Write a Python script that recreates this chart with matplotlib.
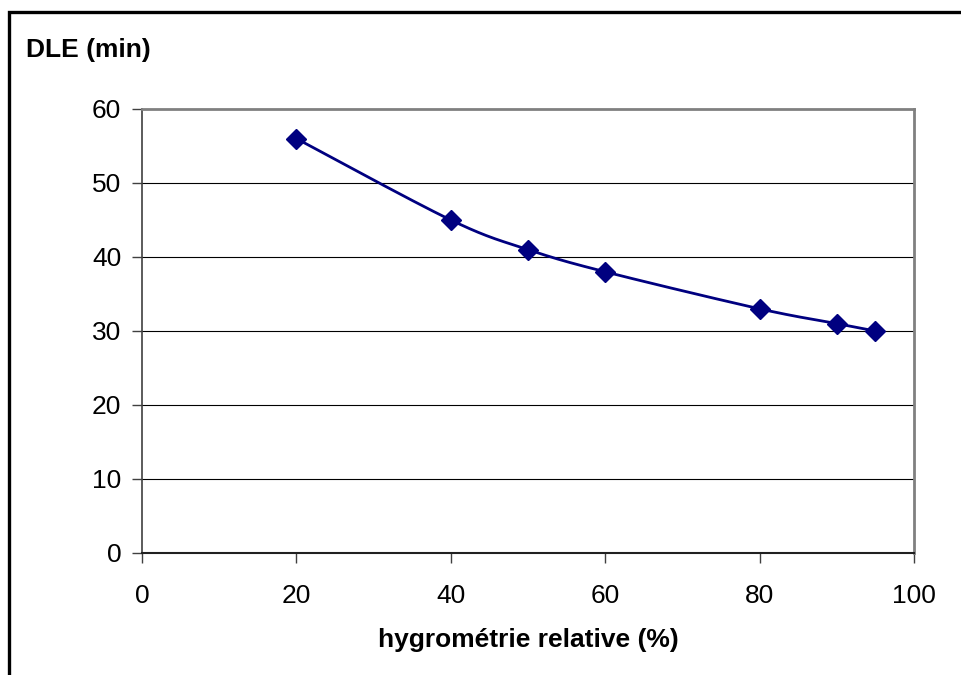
import numpy as np
import matplotlib
matplotlib.use("Agg")
import matplotlib.pyplot as plt
from matplotlib.patches import Rectangle

plt.rcParams['font.family'] = ['Liberation Sans', 'DejaVu Sans']

humidity = [20, 40, 50, 60, 80, 90, 95]
dle_min = [56, 45, 41, 38, 33, 31, 30]
x_ticks = [0, 20, 40, 60, 80, 100]
y_ticks = [0, 10, 20, 30, 40, 50, 60]
x_label = "hygrométrie relative (%)"
y_label = "DLE (min)"


def smooth_curve(xs, ys, n=40):
    # Catmull-Rom style Bezier smoothing (Excel-like)
    xs = np.asarray(xs, float)
    ys = np.asarray(ys, float)
    pts = np.column_stack([xs, ys])
    out = []
    for i in range(len(pts) - 1):
        p0 = pts[i - 1] if i > 0 else pts[i]
        p1 = pts[i]
        p2 = pts[i + 1]
        p3 = pts[i + 2] if i + 2 < len(pts) else pts[i + 1]
        c1 = p1 + (p2 - p0) / 6.0
        c2 = p2 - (p3 - p1) / 6.0
        t = np.linspace(0, 1, n)[:, None]
        b = ((1 - t) ** 3) * p1 + 3 * ((1 - t) ** 2) * t * c1 + 3 * (1 - t) * t ** 2 * c2 + t ** 3 * p2
        out.append(b if i == 0 else b[1:])
    arr = np.vstack(out)
    return arr[:, 0], arr[:, 1]


W, H = 961, 675
fig = plt.figure(figsize=(W / 100, H / 100), dpi=100)

# outer frame (only top and left visible)
fig.patches.append(Rectangle((9 / W, -0.2), 1.5, 1 - 12 / H + 0.2, transform=fig.transFigure,
                             fill=False, edgecolor='black', linewidth=2.4, zorder=10))

left, right, top, bottom = 142, 914, 109, 553
ax = fig.add_axes([left / W, 1 - bottom / H, (right - left) / W, (bottom - top) / H])

FS = 19

ax.set_xlim(0, 100)
ax.set_ylim(0, 60)
ax.set_xticks(x_ticks)
ax.set_yticks(y_ticks)
ax.tick_params(axis='both', direction='out', length=7, width=1, colors='#404040',
               labelcolor='black', labelsize=FS)
ax.tick_params(axis='x', pad=15)
ax.tick_params(axis='y', pad=8)

for y in y_ticks[1:-1]:
    ax.axhline(y, color='black', linewidth=0.8, zorder=1)

ax.spines['top'].set_color('#808080')
ax.spines['right'].set_color('#808080')
ax.spines['top'].set_linewidth(2)
ax.spines['right'].set_linewidth(2)
ax.spines['left'].set_color('#404040')
ax.spines['bottom'].set_color('#202020')
ax.spines['left'].set_linewidth(1.2)
ax.spines['bottom'].set_linewidth(1.5)

sx, sy = smooth_curve(humidity, dle_min)
ax.plot(sx, sy, color='#000080', linewidth=2, zorder=3, clip_on=False)
ax.plot(humidity, dle_min, linestyle='none', marker='D', markersize=10,
        color='#000080', zorder=4, clip_on=False)

fig.text(26 / W, 1 - 50 / H, y_label, fontsize=FS, fontweight='bold', va='center', ha='left')
fig.text(528 / W, 1 - 640 / H, x_label, fontsize=FS, fontweight='bold', va='center', ha='center')

fig.savefig("out.png", dpi=100)
